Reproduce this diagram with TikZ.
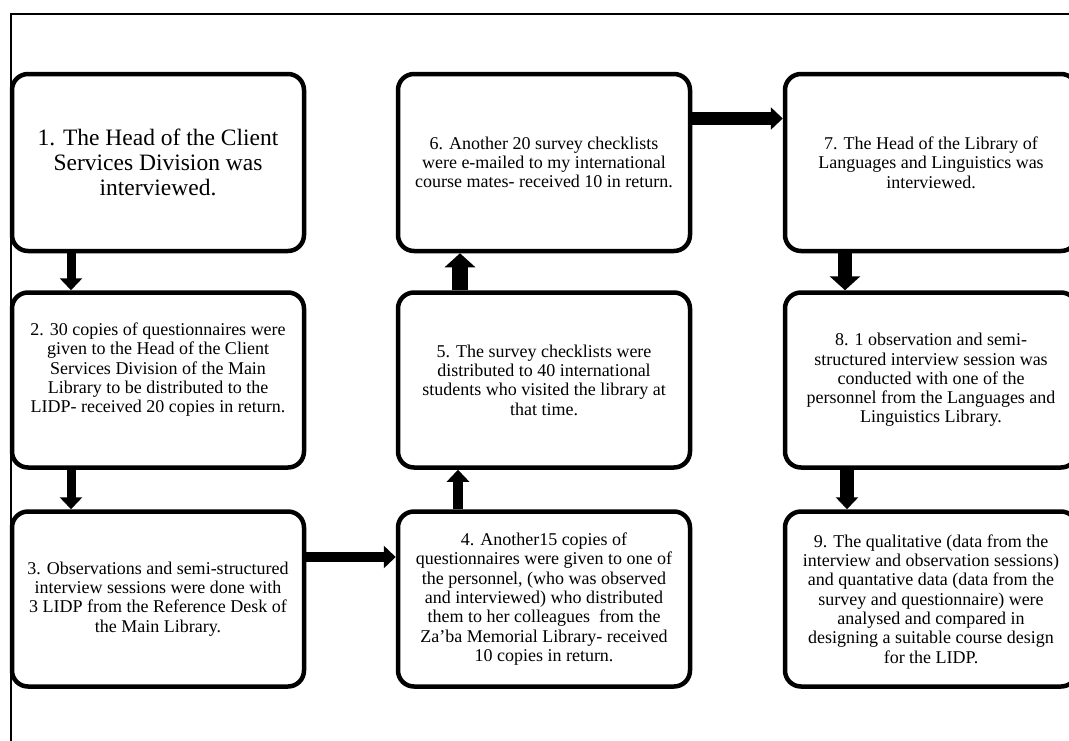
\documentclass[tikz,border=0pt]{standalone}
\usepackage{fontspec}
\setmainfont{Liberation Serif}
\usetikzlibrary{arrows.meta, positioning}

\begin{document}
\begin{tikzpicture}[x=1pt, y=-1pt,
  stepbox/.style={draw, line width=4.5pt, rounded corners=16pt, minimum width=292pt,
    minimum height=175pt, align=center, inner sep=2pt,
    font=\fontsize{18}{19.3}\selectfont},
  flow/.style={line width=#1, -{Triangle[length=12pt, width=22pt]}},
  bigflow/.style={line width=#1, -{Triangle[length=14pt, width=30pt]}}]
  \useasboundingbox (0,0) rectangle (1069,740);
  \clip (0,0) rectangle (1069,740);
  \draw[line width=2pt] (11,14) rectangle (1100,780);

  % column 1
  \node[stepbox, minimum height=177pt, font=\fontsize{23.5}{25}\selectfont] (s1) at (158,162.5)
    {1. The Head of the Client\\Services Division was\\interviewed.};
  \node[stepbox] (s2) at (158,380)
    {2. 30 copies of questionnaires were\\given to the Head of the Client\\Services Division of the Main\\Library to be distributed to the\\LIDP- received 20 copies in return.\\[5pt]};
  \node[stepbox] (s3) at (158,599)
    {3. Observations and semi-structured\\interview sessions were done with\\3 LIDP from the Reference Desk of\\the Main Library.};

  % column 2
  \node[stepbox] (s4) at (544,599)
    {4. Another15 copies of\\questionnaires were given to one of\\the personnel, (who was observed\\and interviewed) who distributed\\them to her colleagues~ from the\\Za’ba Memorial Library- received\\10 copies in return.};
  \node[stepbox] (s5) at (544,380)
    {5. The survey checklists were\\distributed to 40 international\\students who visited the library at\\that time.};
  \node[stepbox, minimum height=177pt] (s6) at (544,162.5)
    {6. Another 20 survey checklists\\were e-mailed to my international\\course mates- received 10 in return.};

  % column 3
  \node[stepbox, minimum height=177pt] (s7) at (931,162.5)
    {7. The Head of the Library of\\Languages and Linguistics was\\interviewed.};
  \node[stepbox] (s8) at (931,380)
    {8. 1 observation and semi-\\structured interview session was\\conducted with one of the\\personnel from the Languages and\\Linguistics Library.};
  \node[stepbox] (s9) at (931,599)
    {9. The qualitative (data from the\\interview and observation sessions)\\and quantative data (data from the\\survey and questionnaire) were\\analysed and compared in\\designing a suitable course design\\for the LIDP.};

  % arrows
  \draw[flow=9pt] ([xshift=-87pt]s1.south) -- ([xshift=-87pt]s2.north);
  \draw[flow=9pt] ([xshift=-87pt]s2.south) -- ([xshift=-87pt]s3.north);
  \draw[flow=10pt] ([yshift=42pt]s3.east) -- ([yshift=42pt]s4.west);
  \draw[flow=10pt] ([xshift=-86pt]s4.north) -- ([xshift=-86pt]s5.south);
  \draw[bigflow=16pt] ([xshift=-84pt]s5.north) -- ([xshift=-84pt]s6.south);
  \draw[flow=13pt] ([yshift=44pt]s6.east) -- ([yshift=44pt]s7.west);
  \draw[bigflow=14pt] ([xshift=-86pt]s7.south) -- ([xshift=-86pt]s8.north);
  \draw[flow=14pt] ([xshift=-84pt]s8.south) -- ([xshift=-84pt]s9.north);
\end{tikzpicture}
\end{document}
